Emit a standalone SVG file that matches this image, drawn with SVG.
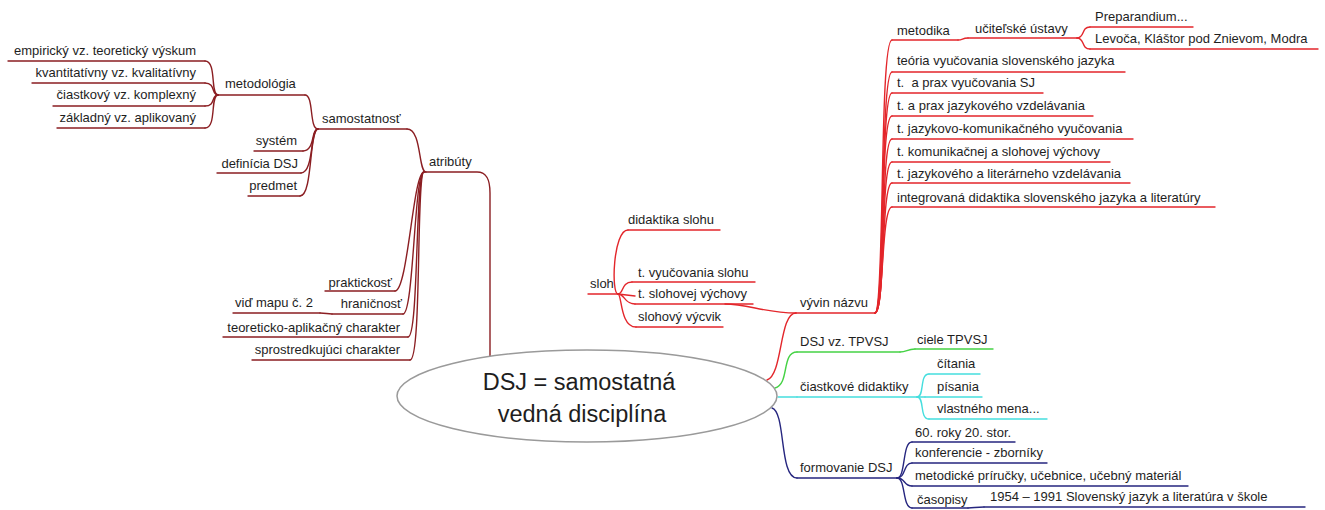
<svg xmlns="http://www.w3.org/2000/svg" width="1325" height="510" viewBox="0 0 1325 510">
<style>
text{font-family:"Liberation Sans",Arial,sans-serif;font-size:13px;fill:#1e1e1e}
.e{text-anchor:end}
.c{font-size:23.5px;text-anchor:middle}
path,line{fill:none;stroke-width:1.4;stroke-linecap:round}
.dr{stroke:#8b1e22}
.rd{stroke:#e3262b}
.gr{stroke:#45d245}
.cy{stroke:#45dede}
.nv{stroke:#26267f}
</style>
<rect width="1325" height="510" fill="#fff"/>
<g id="connectors">
<!-- central to atribúty -->
<path class="dr" d="M424,172 L477,172 C487,172 490,180 490,193 L490,356"/>
<path class="dr" d="M426,172 C418,172 422,129 407,129"/>
<!-- samostatnosť children -->
<path class="dr" d="M318,129 C309,129 314,95 305,95"/>
<path class="dr" d="M318,129 C311,129 315,151 303,151"/>
<path class="dr" d="M318,129 C310,129 314,173 301,173"/>
<path class="dr" d="M318,129 C309,129 313,196 300,196"/>
<!-- metodológia children -->
<path class="dr" d="M218,95 C210,95 217,61 205,61"/>
<path class="dr" d="M218,95 C211,95 216,83 205,83"/>
<path class="dr" d="M218,95 C211,95 216,106 205,106"/>
<path class="dr" d="M218,95 C210,95 217,128 205,128"/>
<!-- atribúty children -->
<path class="dr" d="M424,172 C413,172 408,291 395,291"/>
<path class="dr" d="M424,172 C414,172 414,314 403,314"/>
<path class="dr" d="M424,172 C415,172 419,337 408,337"/>
<path class="dr" d="M424,172 C416,172 422,360 410,360"/>
<path class="dr" d="M332,314 C327,314 326,313 320,313"/>
<!-- central to vývin názvu -->
<path class="rd" d="M767,380 C783,375 779,313 796,313"/>
<!-- vývin názvu children -->
<path class="rd" d="M875,313 C885,313 879,40 892,40"/>
<path class="rd" d="M875,313 C885,313 880,72 892,72"/>
<path class="rd" d="M875,313 C885,313 880,93 892,93"/>
<path class="rd" d="M875,313 C886,313 879,116 892,116"/>
<path class="rd" d="M875,313 C886,313 880,139 892,139"/>
<path class="rd" d="M875,313 C886,313 880,162 892,162"/>
<path class="rd" d="M875,313 C885,313 881,183 892,183"/>
<path class="rd" d="M875,313 C884,313 881,207 892,207"/>
<path class="rd" d="M958,40 C963,40 962,38 968,38"/>
<path class="rd" d="M1077,38 C1085,38 1081,27 1090,27"/>
<path class="rd" d="M1077,38 C1085,38 1081,49 1090,49"/>
<!-- vývin názvu to sloh -->
<path class="rd" d="M796,313 C765,313 748,304 725,304"/>
<!-- sloh children -->
<path class="rd" d="M618,294 C611,294 613,230 628,230"/>
<path class="rd" d="M618,294 C624,294 621,282 632,282"/>
<path class="rd" d="M618,294 L635,296"/>
<path class="rd" d="M618,294 C625,294 624,304 635,304"/>
<path class="rd" d="M618,294 C622,294 620,327 636,327"/>
<!-- green -->
<path class="gr" d="M775,388 C790,384 781,352 797,352"/>
<path class="gr" d="M900,352 C907,352 907,349 915,349"/>
<!-- cyan -->
<path class="cy" d="M778,397 L797,397"/>
<path class="cy" d="M917,397 C925,397 919,374 929,374"/>
<path class="cy" d="M917,397 L925,397"/>
<path class="cy" d="M917,397 C925,397 919,419 929,419"/>
<!-- navy -->
<path class="nv" d="M772,408 C786,412 779,478 797,478"/>
<path class="nv" d="M897,478 C906,478 902,442 912,442"/>
<path class="nv" d="M897,478 C906,478 903,463 912,463"/>
<path class="nv" d="M897,478 C906,478 903,486 912,486"/>
<path class="nv" d="M897,478 C906,478 902,508 912,508"/>
<path class="nv" d="M968,508 C974,508 976,507 984,507"/>
</g>
<g id="center">
<ellipse cx="587" cy="396" rx="190" ry="46" fill="#fff" stroke="#9a9a9a" stroke-width="1.5"/>
<text class="c" x="579" y="390">DSJ = samostatná</text>
<text class="c" x="582" y="422">vedná disciplína</text>
</g>
<g id="atributy"><text x="429" y="166">atribúty</text></g>
<g id="samostatnost"><text x="322" y="123">samostatnosť</text><line class="dr" x1="318" y1="129" x2="407" y2="129"/></g>
<g id="metodologia"><text x="225" y="88">metodológia</text><line class="dr" x1="218" y1="95" x2="305" y2="95"/></g>
<g id="empiricky"><text class="e" x="196" y="55">empirický vz. teoretický výskum</text><line class="dr" x1="8" y1="61" x2="205" y2="61"/></g>
<g id="kvantitativny"><text class="e" x="196" y="77">kvantitatívny vz. kvalitatívny</text><line class="dr" x1="32" y1="83" x2="205" y2="83"/></g>
<g id="ciastkovy"><text class="e" x="196" y="99">čiastkový vz. komplexný</text><line class="dr" x1="53" y1="106" x2="205" y2="106"/></g>
<g id="zakladny"><text class="e" x="196" y="122">základný vz. aplikovaný</text><line class="dr" x1="57" y1="128" x2="205" y2="128"/></g>
<g id="system"><text class="e" x="297" y="145">systém</text><line class="dr" x1="254" y1="151" x2="303" y2="151"/></g>
<g id="definicia"><text class="e" x="298" y="168">definícia DSJ</text><line class="dr" x1="217" y1="173" x2="301" y2="173"/></g>
<g id="predmet"><text class="e" x="297" y="190">predmet</text><line class="dr" x1="248" y1="196" x2="300" y2="196"/></g>
<g id="praktickost"><text class="e" x="392" y="287">praktickosť</text><line class="dr" x1="325" y1="291" x2="395" y2="291"/></g>
<g id="hranicnost"><text class="e" x="402" y="308">hraničnosť</text><line class="dr" x1="332" y1="314" x2="403" y2="314"/></g>
<g id="vid-mapu"><text x="235" y="307">viď mapu č. 2</text><line class="dr" x1="233" y1="313" x2="320" y2="313"/></g>
<g id="teoreticko"><text class="e" x="400" y="332">teoreticko-aplikačný charakter</text><line class="dr" x1="223" y1="337" x2="408" y2="337"/></g>
<g id="sprostredkujuci"><text class="e" x="400" y="354">sprostredkujúci charakter</text><line class="dr" x1="252" y1="360" x2="410" y2="360"/></g>
<g id="vyvin-nazvu"><text x="800" y="307">vývin názvu</text><line class="rd" x1="796" y1="313" x2="875" y2="313"/></g>
<g id="metodika"><text x="897" y="35">metodika</text><line class="rd" x1="892" y1="40" x2="958" y2="40"/></g>
<g id="ucitelske"><text x="975" y="33">učiteľské ústavy</text><line class="rd" x1="968" y1="38" x2="1077" y2="38"/></g>
<g id="preparandium"><text x="1095" y="21">Preparandium...</text><line class="rd" x1="1090" y1="27" x2="1193" y2="27"/></g>
<g id="levoca"><text x="1095" y="43">Levoča, Kláštor pod Znievom, Modra</text><line class="rd" x1="1090" y1="49" x2="1318" y2="49"/></g>
<g id="teoria"><text x="897" y="65">teória vyučovania slovenského jazyka</text><line class="rd" x1="892" y1="72" x2="1125" y2="72"/></g>
<g id="prax-sj"><text x="897" y="87" style="white-space:pre">t.  a prax vyučovania SJ</text><line class="rd" x1="892" y1="93" x2="1043" y2="93"/></g>
<g id="prax-jaz"><text x="897" y="110">t. a prax jazykového vzdelávania</text><line class="rd" x1="892" y1="116" x2="1093" y2="116"/></g>
<g id="jaz-kom"><text x="897" y="133">t. jazykovo-komunikačného vyučovania</text><line class="rd" x1="892" y1="139" x2="1133" y2="139"/></g>
<g id="kom-sloh"><text x="897" y="156">t. komunikačnej a slohovej výchovy</text><line class="rd" x1="892" y1="162" x2="1110" y2="162"/></g>
<g id="jaz-lit"><text x="897" y="178">t. jazykového a literárneho vzdelávania</text><line class="rd" x1="892" y1="183" x2="1130" y2="183"/></g>
<g id="integrovana"><text x="897" y="202">integrovaná didaktika slovenského jazyka a literatúry</text><line class="rd" x1="892" y1="207" x2="1215" y2="207"/></g>
<g id="sloh"><text x="590" y="288">sloh</text><line class="rd" x1="588" y1="294" x2="618" y2="294"/></g>
<g id="didaktika-slohu"><text x="628" y="224">didaktika slohu</text><line class="rd" x1="628" y1="230" x2="720" y2="230"/></g>
<g id="vyuc-slohu"><text x="638" y="277">t. vyučovania slohu</text><line class="rd" x1="632" y1="282" x2="755" y2="282"/></g>
<g id="slohovej"><text x="638" y="298">t. slohovej výchovy</text><line class="rd" x1="635" y1="304" x2="753" y2="304"/></g>
<g id="vycvik"><text x="638" y="321">slohový výcvik</text><line class="rd" x1="636" y1="327" x2="723" y2="327"/></g>
<g id="dsj-tpvsj"><text x="800" y="346">DSJ vz. TPVSJ</text><line class="gr" x1="797" y1="352" x2="900" y2="352"/></g>
<g id="ciele"><text x="917" y="344">ciele TPVSJ</text><line class="gr" x1="915" y1="349" x2="993" y2="349"/></g>
<g id="ciastkove"><text x="800" y="391">čiastkové didaktiky</text><line class="cy" x1="797" y1="397" x2="917" y2="397"/></g>
<g id="citania"><text x="937" y="368">čítania</text><line class="cy" x1="929" y1="374" x2="980" y2="374"/></g>
<g id="pisania"><text x="937" y="391">písania</text><line class="cy" x1="925" y1="397" x2="982" y2="397"/></g>
<g id="vlastneho"><text x="937" y="413">vlastného mena...</text><line class="cy" x1="929" y1="419" x2="1047" y2="419"/></g>
<g id="formovanie"><text x="800" y="472">formovanie DSJ</text><line class="nv" x1="797" y1="478" x2="897" y2="478"/></g>
<g id="roky"><text x="915" y="437">60. roky 20. stor.</text><line class="nv" x1="912" y1="442" x2="1015" y2="442"/></g>
<g id="konferencie"><text x="915" y="457">konferencie - zborníky</text><line class="nv" x1="912" y1="463" x2="1047" y2="463"/></g>
<g id="metodicke"><text x="915" y="480">metodické príručky, učebnice, učebný materiál</text><line class="nv" x1="912" y1="486" x2="1188" y2="486"/></g>
<g id="casopisy"><text x="917" y="504">časopisy</text><line class="nv" x1="912" y1="508" x2="968" y2="508"/></g>
<g id="slovensky-jazyk"><text x="990" y="501">1954 – 1991 Slovenský jazyk a literatúra v škole</text><line class="nv" x1="984" y1="507" x2="1305" y2="507"/></g>
</svg>
